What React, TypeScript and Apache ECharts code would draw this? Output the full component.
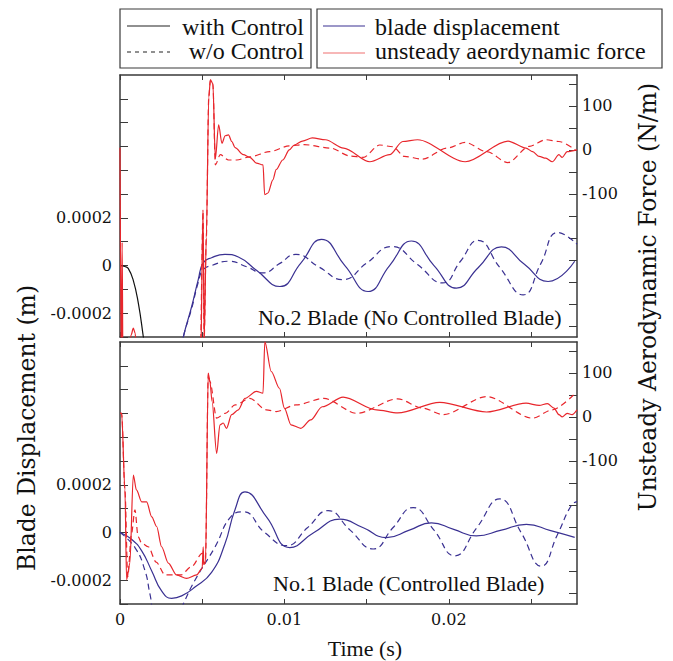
import React, { useEffect, useRef } from "react";
import * as echarts from "echarts";

// ---------- axis ticks / labels ----------
const xTickValues = [0, 0.005, 0.01, 0.015, 0.02, 0.025];
const xLabelValues = [0, 0.01, 0.02];
const dispTickValues = [-0.0003, -0.0002, -0.0001, 0, 0.0001, 0.0002, 0.0003, 0.0004, 0.0005, 0.0006, 0.0007];
const dispLabelValues = [-0.0002, 0, 0.0002];
const forceTickValues = [-400, -350, -300, -250, -200, -150, -100, -50, 0, 50, 100, 150];
const forceLabelValues = [-100, 0, 100];

// ---------- No.2 blade (upper panel) ----------
const t2BlackCtrl = [0, 0.0003, 0.0005, 0.0008, 0.00112, 0.00142, 0.0017];
const d2BlackCtrl = [0, -0.000004, -0.000012, -0.00006, -0.00016, -0.0003, -0.00044];

const t2DispCtrl = [0.0035, 0.00385, 0.00436, 0.00476, 0.00506, 0.00557, 0.00638, 0.0072, 0.0083, 0.00973, 0.011, 0.01226, 0.01368, 0.01509, 0.0164, 0.01773, 0.0191, 0.02047, 0.0218, 0.0232, 0.0246, 0.02604, 0.02766];
const d2DispCtrl = [-0.00042, -0.0003, -0.000172, -0.000059, 0.000011, 0.000033, 0.000047, 0.000036, -0.00002, -0.000088, 0.00001, 0.00011, 0, -0.000109, 0, 0.000103, 0, -0.000095, -0.000008, 0.000078, 0.000005, -0.000067, 0.000018];

const t2DispNo = [0.0035, 0.00385, 0.00436, 0.00476, 0.00506, 0.00557, 0.0066, 0.0077, 0.0087, 0.0097, 0.0107, 0.0121, 0.01356, 0.015, 0.01653, 0.0181, 0.01963, 0.0207, 0.02178, 0.0231, 0.02452, 0.0256, 0.02664, 0.0278];
const d2DispNo = [-0.00042, -0.0003, -0.00018, -0.00007, -0.000017, 0, 0.000018, -0.000005, -0.000031, 0.000008, 0.000047, -0.000006, -0.000059, 0.00001, 0.00008, 0.000004, -0.000073, 0.000017, 0.000106, -0.000008, -0.000123, 0.000008, 0.000139, 0.00009];

const t2ForceCtrl = [0, 0.00008, 0.00013, 0.00018, 0.00055, 0.00068, 0.00081, 0.00092, 0.001, 0.0012, 0.0049, 0.00505, 0.00512, 0.00525, 0.0054, 0.0055, 0.00565, 0.0058, 0.006, 0.0062, 0.0064, 0.0066, 0.0068, 0.007, 0.0075, 0.0079, 0.0083, 0.0087, 0.0088, 0.009, 0.0093, 0.0095, 0.0099, 0.0103, 0.0106, 0.0111, 0.0117, 0.0125, 0.0136, 0.0152, 0.0164, 0.0172, 0.0181, 0.021, 0.0236, 0.0247, 0.0251, 0.0255, 0.0259, 0.0263, 0.0267, 0.0269, 0.0272, 0.0278];
const f2ForceCtrl = [5, -500, -210, -500, -450, -420, -405, -416, -450, -500, -500, -136, -430, -200, 120, 159, 150, -20, 57, 15, 32, 34, 19, 5, -11, -17, -30, -34, -102, -98, -68, -45, -23, 0, 11, 20, 27, 23, 4, -27, -11, 19, 23, -27, 20, 4, -4, -15, -19, -27, -11, -17, -4, 0];

const t2ForceNo = [0.0049, 0.00505, 0.00512, 0.00525, 0.0054, 0.0055, 0.00565, 0.0058, 0.0061, 0.0066, 0.0071, 0.0079, 0.0091, 0.0103, 0.0112, 0.0128, 0.014, 0.0148, 0.0158, 0.0166, 0.0173, 0.0184, 0.0199, 0.021, 0.0223, 0.0236, 0.0249, 0.0259, 0.0267, 0.0277];
const f2ForceNo = [-500, -140, -430, -200, 120, 159, 150, -34, -11, -23, -23, -16, -4, 9, 12, 4, -14, -17, 11, 7, -15, -21, 4, 17, -4, -29, 8, 23, 19, 0];

// ---------- No.1 blade (lower panel) ----------
const t1DispCtrl = [0, 0.0007, 0.00132, 0.00193, 0.00253, 0.00314, 0.00375, 0.00456, 0.00557, 0.00638, 0.00699, 0.0076, 0.00892, 0.01033, 0.0118, 0.01337, 0.0148, 0.01621, 0.0176, 0.01895, 0.0203, 0.02168, 0.0232, 0.02472, 0.0262, 0.02766];
const d1DispCtrl = [0, -0.000028, -0.000077, -0.000161, -0.000245, -0.000276, -0.000266, -0.000229, -0.000167, -0.000048, 0.000095, 0.000171, 0.000065, -0.000063, 0, 0.000056, 0.00002, -0.000021, 0.00001, 0.000041, 0.000013, -0.000014, 0.00001, 0.000034, 0.000008, -0.00002];

const t1DispNo = [0, 0.00091, 0.00152, 0.00182, 0.0022, 0.0032, 0.00385, 0.00456, 0.00577, 0.00679, 0.0075, 0.0088, 0.01013, 0.0114, 0.01266, 0.014, 0.0154, 0.0166, 0.01783, 0.0191, 0.02036, 0.0217, 0.0231, 0.0244, 0.02563, 0.0266, 0.02746, 0.0278];
const d1DispNo = [0, -0.000063, -0.00016, -0.000257, -0.00037, -0.0004, -0.0003, -0.0002, -0.000062, 0.00007, 0.000087, 0, -0.000055, 0.00002, 0.000092, 0.00001, -0.000069, 0.00002, 0.000105, 0.00001, -0.000098, 0.00002, 0.000141, 0, -0.000141, -0.00001, 0.000115, 0.00013];

const t1ForceCtrl = [0, 0.0001, 0.0003, 0.0004, 0.0006, 0.00081, 0.001, 0.00132, 0.00162, 0.00193, 0.00223, 0.00253, 0.00294, 0.00344, 0.00405, 0.00466, 0.005, 0.00506, 0.0051, 0.0052, 0.00537, 0.00547, 0.0056, 0.00588, 0.00608, 0.00628, 0.00648, 0.00679, 0.0072, 0.0076, 0.0083, 0.0087, 0.00881, 0.0092, 0.0097, 0.01, 0.0104, 0.011, 0.0116, 0.0123, 0.01357, 0.0156, 0.0169, 0.01945, 0.0223, 0.0247, 0.0255, 0.026, 0.0264, 0.0267, 0.0269, 0.0272, 0.0275, 0.0278];
const f1ForceCtrl = [8, 8, -166, -370, -332, -132, -166, -193, -193, -227, -249, -295, -332, -359, -367, -359, -344, -295, -335, -330, 99, 80, 35, -83, -18, -14, -26, 5, 16, 42, 58, 54, 171, 103, 65, 20, -18, -26, -7, 23, 45, 16, 9, 33, 11, 31, 26, 30, 20, 5, 0, 8, 5, 16];

const t1ForceNo = [0, 0.0001, 0.0003, 0.00047, 0.0007, 0.00091, 0.0011, 0.00132, 0.00172, 0.0022, 0.00274, 0.0037, 0.00436, 0.005, 0.00506, 0.0051, 0.0052, 0.00537, 0.00547, 0.00588, 0.0064, 0.007, 0.0079, 0.0089, 0.0095, 0.0107, 0.0124, 0.0144, 0.0169, 0.0184, 0.01965, 0.0223, 0.0251, 0.0263, 0.0277];
const f1ForceNo = [8, 8, -166, -363, -265, -211, -272, -287, -295, -330, -359, -359, -340, -310, -302, -335, -330, 99, 80, -3, 8, 27, 42, 16, 12, 27, 42, 8, 41, 20, 5, 46, -3, 16, 54];

const RED = "#e8262c";
const BLUE = "#3a3192";
const FRAME = "#3a3a3a";
const X_MAX = 0.0278;
const D_MIN = -0.0003;
const D_MAX = 0.0008;
const F_MIN = -425;
const F_MAX = 170;

const zip = (t: number[], v: number[]) => t.map((x, i) => [x, v[i]]);
const fmt = (v: number) => String(Math.round(v * 1e6) / 1e6);

const TICK_FONT = "'DejaVu Serif', serif";
const TIMES = "'Liberation Serif', 'Times New Roman', serif";

function xAxes(gridIndex: number, showLabels: boolean) {
  const base = {
    type: "value",
    gridIndex,
    min: 0,
    max: X_MAX,
    splitLine: { show: false },
    axisLine: { show: true, onZero: false, lineStyle: { color: FRAME, width: 1.5 } },
    axisTick: { show: true, inside: true, length: 5, customValues: xTickValues, lineStyle: { color: FRAME, width: 1 } },
  };
  return [
    {
      ...base,
      position: "bottom",
      axisLabel: {
        show: showLabels,
        customValues: xLabelValues,
        formatter: fmt,
        fontFamily: TICK_FONT,
        fontSize: 16,
        color: "#111",
        margin: 7,
      },
    },
    { ...base, position: "top", axisLabel: { show: false } },
  ];
}

function yAxes(gridIndex: number) {
  return [
    {
      type: "value",
      gridIndex,
      position: "left",
      min: D_MIN,
      max: D_MAX,
      splitLine: { show: false },
      axisLine: { show: true, onZero: false, lineStyle: { color: FRAME, width: 1.5 } },
      axisTick: { show: true, inside: true, length: 8, customValues: dispTickValues, lineStyle: { color: FRAME, width: 1 } },
      axisLabel: { customValues: dispLabelValues, formatter: fmt, fontFamily: TICK_FONT, fontSize: 16, color: "#111", margin: 8 },
    },
    {
      type: "value",
      gridIndex,
      position: "right",
      min: F_MIN,
      max: F_MAX,
      splitLine: { show: false },
      axisLine: { show: true, onZero: false, lineStyle: { color: FRAME, width: 1.5 } },
      axisTick: { show: true, inside: true, length: 8, customValues: forceTickValues, lineStyle: { color: FRAME, width: 1 } },
      axisLabel: { customValues: forceLabelValues, formatter: fmt, fontFamily: TICK_FONT, fontSize: 16, color: "#111", margin: 5 },
    },
  ];
}

function line(name: string, data: number[][], xi: number, yi: number, color: string, dashed: boolean, sharp: boolean) {
  return {
    type: "line",
    name,
    data,
    xAxisIndex: xi,
    yAxisIndex: yi,
    showSymbol: false,
    symbol: "none",
    smooth: sharp ? 0.3 : 0.5,
    smoothMonotone: sharp ? "x" : undefined,
    clip: true,
    lineStyle: { color, width: 1.2, type: dashed ? [6, 4] : "solid" },
    z: 3,
  };
}

export default function App() {
  const ref = useRef<HTMLDivElement>(null);
  useEffect(() => {
    if (!ref.current) return;
    const chart = echarts.init(ref.current, null, { renderer: "svg" });
    const legendText = (x: number, y: number, text: string, align: string) => ({
      type: "text",
      x,
      y,
      style: { text, fontFamily: TIMES, fontSize: 24, fill: "#111", align, verticalAlign: "middle" },
    });
    const legendLine = (x1: number, x2: number, y: number, color: string, dashed: boolean) => ({
      type: "line",
      shape: { x1, y1: y, x2, y2: y },
      style: { stroke: color, lineWidth: 1.2, lineDash: dashed ? [4, 4] : null },
    });
    chart.setOption({
      animation: false,
      backgroundColor: "#fff",
      textStyle: { fontFamily: TIMES },
      grid: [
        { left: 120, top: 75, width: 457, height: 262, outerBoundsMode: "none", containLabel: false },
        { left: 120, top: 342, width: 457, height: 262, outerBoundsMode: "none", containLabel: false },
      ],
      xAxis: [...xAxes(0, false), ...xAxes(1, true)],
      yAxis: [...yAxes(0), ...yAxes(1)],
      series: [
        line("with Control (No.2, start)", zip(t2BlackCtrl, d2BlackCtrl), 0, 0, "#111", false, false),
        line("blade displacement with Control (No.2)", zip(t2DispCtrl, d2DispCtrl), 0, 0, BLUE, false, false),
        line("blade displacement w/o Control (No.2)", zip(t2DispNo, d2DispNo), 0, 0, BLUE, true, false),
        line("unsteady aeordynamic force with Control (No.2)", zip(t2ForceCtrl, f2ForceCtrl), 0, 1, RED, false, true),
        line("unsteady aeordynamic force w/o Control (No.2)", zip(t2ForceNo, f2ForceNo), 0, 1, RED, true, true),
        line("blade displacement with Control (No.1)", zip(t1DispCtrl, d1DispCtrl), 2, 2, BLUE, false, false),
        line("blade displacement w/o Control (No.1)", zip(t1DispNo, d1DispNo), 2, 2, BLUE, true, false),
        line("unsteady aeordynamic force with Control (No.1)", zip(t1ForceCtrl, f1ForceCtrl), 2, 3, RED, false, true),
        line("unsteady aeordynamic force w/o Control (No.1)", zip(t1ForceNo, f1ForceNo), 2, 3, RED, true, true),
      ],
      graphic: [
        { type: "rect", shape: { x: 120, y: 9, width: 191, height: 59 }, style: { fill: "none", stroke: FRAME, lineWidth: 1.2 } },
        legendLine(127, 170, 26, "#222", false),
        legendLine(127, 170, 52, "#222", true),
        legendText(304, 27, "with Control", "right"),
        legendText(304, 51, "w/o Control", "right"),
        { type: "rect", shape: { x: 317, y: 9, width: 345, height: 59 }, style: { fill: "none", stroke: FRAME, lineWidth: 1.2 } },
        legendLine(323, 365, 26, BLUE, false),
        legendLine(323, 365, 53, "#f07070", false),
        legendText(375, 27, "blade displacement", "left"),
        legendText(375, 51, "unsteady aeordynamic force", "left"),
        {
          type: "text",
          x: 258,
          y: 317,
          style: { text: "No.2 Blade (No Controlled Blade)", fontFamily: TIMES, fontSize: 22, fill: "#111", verticalAlign: "middle" },
          z: 10,
        },
        {
          type: "text",
          x: 273,
          y: 583,
          style: { text: "No.1 Blade (Controlled Blade)", fontFamily: TIMES, fontSize: 22, fill: "#111", verticalAlign: "middle" },
          z: 10,
        },
        {
          type: "text",
          x: 365,
          y: 648,
          style: { text: "Time (s)", fontFamily: TIMES, fontSize: 22, fill: "#111", align: "center", verticalAlign: "middle" },
        },
        {
          type: "text",
          x: 27,
          y: 428,
          rotation: Math.PI / 2,
          style: { text: "Blade Displacement (m)", fontFamily: TICK_FONT, fontSize: 23.5, fill: "#111", align: "center", verticalAlign: "middle" },
        },
        {
          type: "text",
          x: 648,
          y: 297,
          rotation: Math.PI / 2,
          style: { text: "Unsteady Aerodynamic Force (N/m)", fontFamily: TICK_FONT, fontSize: 23.5, fill: "#111", align: "center", verticalAlign: "middle" },
        },
      ],
    });
    return () => chart.dispose();
  }, []);
  return <div ref={ref} style={{ width: 673, height: 661, position: "absolute", left: 0, top: 0 }} />;
}
